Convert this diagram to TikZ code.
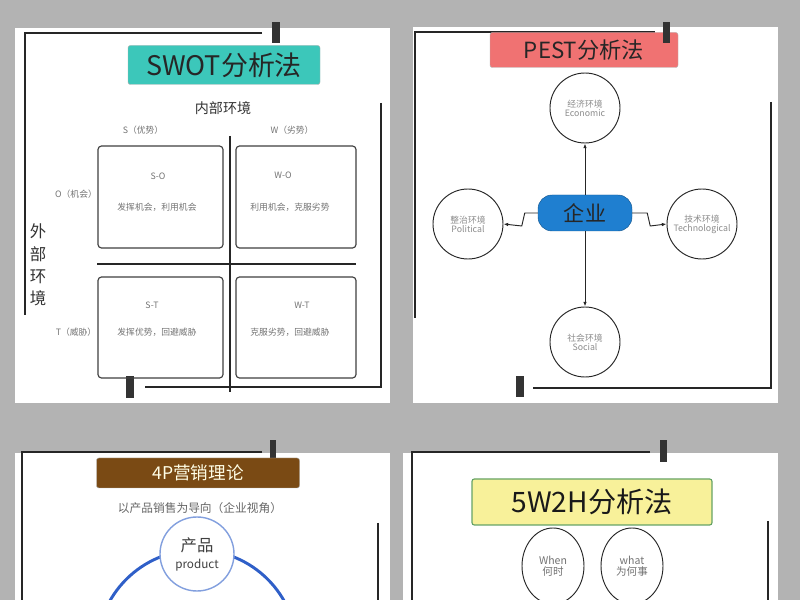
\documentclass[tikz,border=0pt]{standalone}
\usepackage{fontspec}
\setmainfont{Noto Sans CJK SC}
\usetikzlibrary{arrows.meta,shapes.geometric}
\definecolor{bggray}{HTML}{B3B3B3}
\definecolor{swotteal}{HTML}{3CC7BA}
\definecolor{pestred}{HTML}{F07272}
\definecolor{fourpbrown}{HTML}{7A4A14}
\definecolor{wyellow}{HTML}{F8F19A}
\definecolor{entblue}{HTML}{1F7FD0}
\definecolor{ringblue}{HTML}{2F5FC8}
\newcommand{\fs}[1]{\fontsize{#1}{#1}\selectfont}
\begin{document}
\begin{tikzpicture}[x=0.03cm,y=-0.03cm]
\tikzstyle{panel} = [fill=white, draw=none]
\tikzstyle{frame} = [line width=1.2pt, black!85]
\tikzstyle{tab} = [fill=black!80, draw=none]
\tikzstyle{title} = [rounded corners=2pt, draw=black!30, inner sep=0pt, align=center]
\tikzstyle{quad} = [draw=black!75, line width=1pt, rounded corners=3pt]
\tikzstyle{small} = [text=black!55, font=\fs{7.5}]
\tikzstyle{env} = [circle, draw=black!85, thick, minimum size=2.1cm, inner sep=0pt, align=center, text=black!45, font=\fs{7.5}]
\tikzstyle{link} = [thick, black!85, -{Latex[length=4pt]}]

\useasboundingbox (0,0) rectangle (800,600);
\fill[bggray] (0,0) rectangle (800,600);

% panels
\foreach \xa/\ya/\xb/\yb in {15/28/390/403, 413/27/778/403, 15/453/390/600, 403/453/778/600}
  \fill[panel] (\xa,\ya) rectangle (\xb,\yb);

%SWOT
\draw[frame] (262,33) -- (25,33) -- (25,315);
\draw[frame] (381,103) -- (381,387) -- (145,387);
\fill[tab] (272,22) rectangle (280,43);
\fill[tab] (126,376) rectangle (134,398);
\node[title, fill=swotteal, minimum width=192*0.03cm, minimum height=39*0.03cm, font=\fs{23}, text=black!85] (swot) at (224,65) {SWOT分析法};
\node[font=\fs{12}, text=black!80] (inner) at (223,108) {内部环境};
\node[small] (s) at (143,130) {S（优势）};
\node[small] (w) at (292,130) {W（劣势）};
\node[small] (o) at (76,194) {O（机会）};
\node[small] (t) at (76,332) {T（威胁）};
\node[font=\fs{14}, text=black!80, align=center, inner sep=0pt] (outer) at (38,265) {外\\[5pt]部\\[5pt]环\\[5pt]境};
\draw[frame, line width=0.9pt] (230,136) -- (230,392);
\draw[frame, line width=0.9pt] (97,264) -- (356,264);
\foreach \name/\xa/\ya/\xb/\yb in {so/98/146/223/248, wo/236/146/356/248, st/98/277/223/378, wt/236/277/356/378}
  \draw[quad] (\xa,\ya) rectangle (\xb,\yb);
\node[small] (so) at (158,176) {S-O};
\node[small] (sotext) at (157,207) {发挥机会，利用机会};
\node[small] (wo) at (283,175) {W-O};
\node[small] (wotext) at (290,207) {利用机会，克服劣势};
\node[small] (st) at (152,305) {S-T};
\node[small] (sttext) at (157,332) {发挥优势，回避威胁};
\node[small] (wt) at (302,305) {W-T};
\node[small] (wttext) at (290,332) {克服劣势，回避威胁};

%PEST
\draw[frame] (655,32) -- (415,32) -- (415,318);
\draw[frame] (771,102) -- (771,388) -- (533,388);
\node[title, fill=pestred, minimum width=188*0.03cm, minimum height=35*0.03cm, font=\fs{19}, text=black!85] (pest) at (584,50) {PEST分析法};
\fill[tab] (663,22) rectangle (670,43);
\fill[tab] (516,376) rectangle (524,397);
\node[env] (econ) at (585,108) {经济环境\\Economic};
\node[env] (poli) at (468,224) {整治环境\\Political};
\node[env] (tech) at (702,224) {技术环境\\Technological};
\node[env] (soc) at (585,342) {社会环境\\Social};
\node[rounded corners=12pt, fill=entblue, draw=entblue!70!black, minimum width=94*0.03cm, minimum height=36*0.03cm, font=\fs{18}, text=black!85, inner sep=0pt] (ent) at (585,213) {企业};
\draw[link] (ent.north) -- (econ);
\draw[link] (ent.south) -- (soc);
\draw[link] (ent.west) -- ++(-13,0) -- ++(-3,13) -- (poli.east);
\draw[link] (ent.east) -- ++(15,0) -- ++(3,13) -- (tech.west);

%4P
\draw[frame] (262,452) -- (22,452) -- (22,600);
\draw[frame] (378,523) -- (378,600);
\fill[tab] (270,440) rectangle (276,462);
\node[title, fill=fourpbrown, minimum width=203*0.03cm, minimum height=30*0.03cm, font=\fs{15}, text=white!90!yellow] (fourp) at (198,473) {4P营销理论};
\node[text=black!60, font=\fs{10}] (guide) at (200,508) {以产品销售为导向（企业视角）};
\draw[ringblue, line width=2.5pt] (197,650) circle (100);
\node[circle, draw=ringblue!60, line width=1.2pt, fill=white, minimum size=74*0.03cm, inner sep=0pt] (prod) at (197,554) {};
\node[text=black!75, font=\fs{14}, inner sep=0pt] (prodcn) at (197,545) {产品};
\node[text=black!75, font=\fs{10}, inner sep=0pt] (proden) at (197,565) {product};

%5W2H
\draw[frame] (650,452) -- (412,452) -- (412,600);
\draw[frame] (768,521) -- (768,600);
\fill[tab] (660,440) rectangle (667,462);
\node[title, fill=wyellow, draw=green!40!black!60, line width=1pt, minimum width=240*0.03cm, minimum height=46*0.03cm, font=\fs{24}, text=black!90] (fivew) at (592,502) {5W2H分析法};
\node[ellipse, draw=black!85, thick, minimum width=62*0.03cm, minimum height=76*0.03cm, inner sep=0pt, align=center, text=black!55, font=\fs{9}] (when) at (553,566) {When\\何时};
\node[ellipse, draw=black!85, thick, minimum width=62*0.03cm, minimum height=76*0.03cm, inner sep=0pt, align=center, text=black!55, font=\fs{9}] (what) at (632,566) {what\\为何事};
\end{tikzpicture}
\end{document}
